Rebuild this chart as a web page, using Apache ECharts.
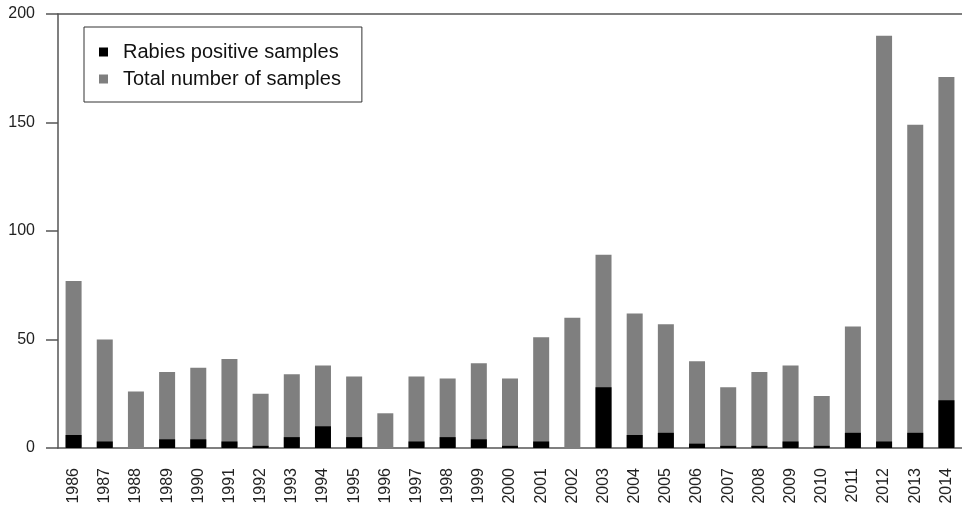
<!DOCTYPE html>
<html>
<head>
<meta charset="utf-8">
<script src="https://cdn.jsdelivr.net/npm/echarts@6/dist/echarts.min.js"></script>
<style>
html, body { margin: 0; padding: 0; background: #fff; }
#chart { width: 962px; height: 510px; }
</style>
</head>
<body>
<div id="chart"></div>
<script>
// data
var years = ['1986','1987','1988','1989','1990','1991','1992','1993','1994','1995',
  '1996','1997','1998','1999','2000','2001','2002','2003','2004','2005',
  '2006','2007','2008','2009','2010','2011','2012','2013','2014'];
var totalSamples = [77, 50, 26, 35, 37, 41, 25, 34, 38, 33,
  16, 33, 32, 39, 32, 51, 60, 89, 62, 57,
  40, 28, 35, 38, 24, 56, 190, 149, 171];
var positiveSamples = [6, 3, 0, 4, 4, 3, 1, 5, 10, 5,
  0, 3, 5, 4, 1, 3, 0, 28, 6, 7,
  2, 1, 1, 3, 1, 7, 3, 7, 22];
var yTicks = [0, 50, 100, 150, 200];

var lineColor = '#555';
var font = 'Liberation Sans, Arial, Helvetica, sans-serif';

var myChart = echarts.init(document.getElementById('chart'));
myChart.setOption({
    animation: false,
    backgroundColor: '#fff',
    legend: {
        orient: 'vertical',
        left: 84,
        top: 27,
        padding: [15, 21, 13, 15],
        itemGap: 7,
        itemWidth: 9,
        itemHeight: 9,
        borderColor: '#333',
        borderWidth: 1,
        borderRadius: 0,
        icon: 'rect',
        textStyle: {
            fontFamily: font,
            fontSize: 20,
            lineHeight: 20,
            color: '#111',
            padding: [0, 0, 0, 10]
        },
        data: ['Rabies positive samples', 'Total number of samples']
    },
    grid: { left: 58, right: -9, top: 14, bottom: 62, containLabel: false },
    xAxis: [{
        type: 'category',
        data: years,
        position: 'bottom',
        axisLine: { lineStyle: { color: lineColor, width: 1.5 } },
        axisTick: { alignWithLabel: true, length: 10, lineStyle: { color: lineColor, width: 1.5 } },
        axisLabel: {
            interval: 0,
            rotate: 90,
            margin: 20,
            fontFamily: font,
            fontSize: 16,
            color: '#222'
        }
    }, {
        type: 'category',
        data: years,
        position: 'top',
        axisLine: { lineStyle: { color: lineColor, width: 1.5 } },
        axisTick: { show: false },
        axisLabel: { show: false }
    }],
    yAxis: {
        type: 'value',
        min: yTicks[0],
        max: yTicks[yTicks.length - 1],
        interval: 50,
        axisLine: { show: true, lineStyle: { color: lineColor, width: 1.5 } },
        axisTick: { show: true, length: 12, lineStyle: { color: lineColor, width: 1.5 } },
        axisLabel: {
            margin: 23,
            fontFamily: font,
            fontSize: 16,
            color: '#222'
        },
        splitLine: { show: false }
    },
    series: [{
        name: 'Total number of samples',
        type: 'bar',
        data: totalSamples,
        barWidth: 16,
        barGap: '-100%',
        itemStyle: { color: '#7f7f7f' }
    }, {
        name: 'Rabies positive samples',
        type: 'bar',
        data: positiveSamples,
        barWidth: 16,
        barGap: '-100%',
        itemStyle: { color: '#000' }
    }]
});
</script>
</body>
</html>
